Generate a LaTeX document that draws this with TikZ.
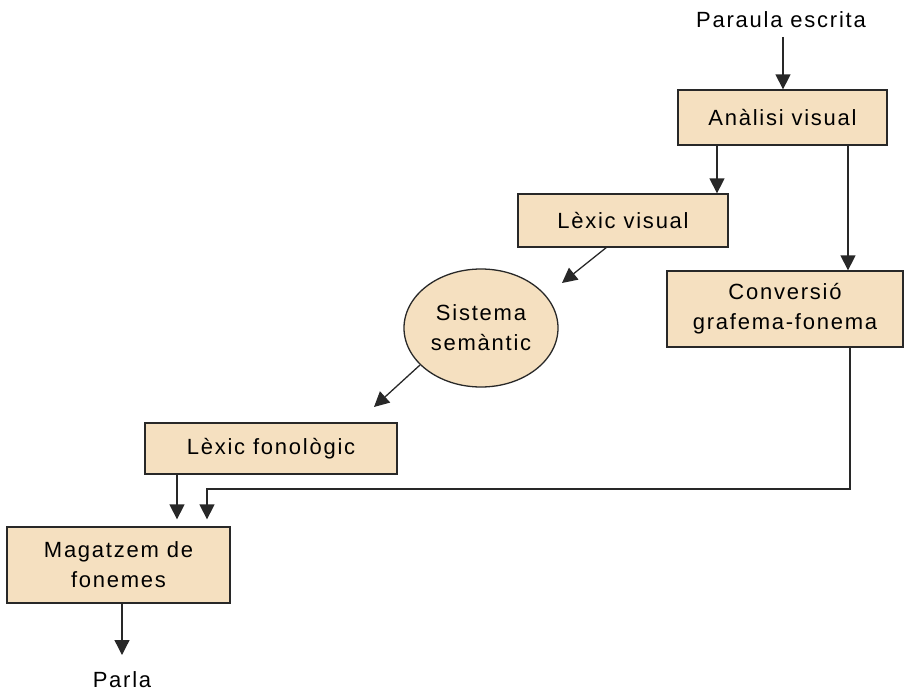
\documentclass[tikz,border=0pt]{standalone}
\usepackage{fontspec}
\setmainfont{Liberation Sans}[LetterSpace=8]
\usetikzlibrary{arrows.meta,shapes.geometric}
\definecolor{boxfill}{RGB}{245,224,192}
\definecolor{edge}{RGB}{40,40,40}
\begin{document}
\begin{tikzpicture}[x=1pt,y=-1pt,
  every node/.style={font=\fontsize{22}{30}\selectfont, text=black, align=center, inner sep=0pt},
  box/.style={draw=edge, fill=boxfill, line width=1.3pt, rectangle},
  oval/.style={draw=edge, fill=boxfill, line width=1.3pt, ellipse},
  arr/.style={draw=edge, line width=1.3pt, -{Triangle[length=15pt,width=15pt]}}]
\useasboundingbox (0,0) rectangle (904,693);

% labels at the ends of the chain
\node (pe) at (781,20) {Paraula escrita};
\node (pa) at (122,680) {Parla};

% processing stages
\node[box, minimum width=209pt, minimum height=55pt] (av) at (782.5,117.5) {Anàlisi visual};
\node[box, minimum width=210pt, minimum height=53pt] (lv) at (623,220.5) {Lèxic visual};
\node[box, minimum width=236pt, minimum height=76pt] (cg) at (785,309) {Conversió\\grafema-fonema};
\node[oval, minimum width=154pt, minimum height=118pt] (sem) at (481,328) {Sistema\\semàntic};
\node[box, minimum width=252pt, minimum height=51pt] (lf) at (271,448.5) {Lèxic fonològic};
\node[box, minimum width=223pt, minimum height=76pt] (mf) at (118.5,565) {Magatzem de\\fonemes};

% columns and free ends of the connectors
\coordinate (pestart) at (783,37);
\coordinate (xlv) at (717,0);
\coordinate (xcg) at (848,0);
\coordinate (xbend) at (850,0);
\coordinate (xlf) at (177,0);
\coordinate (xmf) at (207,0);
\coordinate (xpa) at (122,0);
\coordinate (lvout) at (607,247);
\coordinate (semin) at (562,283);
\coordinate (semout) at (420,365);
\coordinate (lfin) at (374,407);
\coordinate (turn) at (850,489);
\coordinate (paend) at (122,655);

\draw[arr] (pestart) -- (av.north -| pestart);
\draw[arr] (av.south -| xlv) -- (lv.north -| xlv);
\draw[arr] (av.south -| xcg) -- (cg.north -| xcg);
\draw[arr] (lvout) -- (semin);
\draw[arr] (semout) -- (lfin);
\draw[arr, shorten >=7pt] (lf.south -| xlf) -- (mf.north -| xlf);
\draw[arr, shorten >=7pt] (cg.south -| xbend) -- (turn) -| (mf.north -| xmf);
\draw[arr] (mf.south -| xpa) -- (paend);
\end{tikzpicture}
\end{document}
